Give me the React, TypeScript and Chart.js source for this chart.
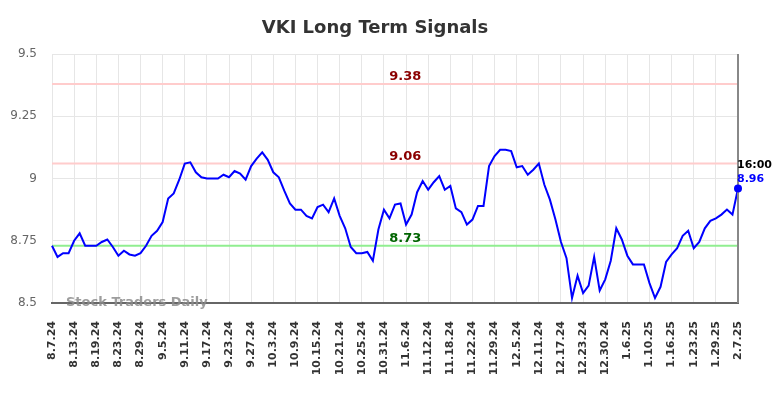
import React, { useEffect, useRef } from "react";
import { Chart, registerables } from "chart.js";

Chart.register(...registerables);

const chartTitle = "VKI Long Term Signals";
const watermarkText = "Stock Traders Daily";
const lastTimeLabel = "16:00";

const tickLabels = [
  "8.7.24", "8.13.24", "8.19.24", "8.23.24", "8.29.24", "9.5.24", "9.11.24", "9.17.24",
  "9.23.24", "9.27.24", "10.3.24", "10.9.24", "10.15.24", "10.21.24", "10.25.24", "10.31.24",
  "11.6.24", "11.12.24", "11.18.24", "11.22.24", "11.29.24", "12.5.24", "12.11.24", "12.17.24",
  "12.23.24", "12.30.24", "1.6.25", "1.10.25", "1.16.25", "1.23.25", "1.29.25", "2.7.25",
];
const pointsPerTick = 4;

const prices = [
  8.73, 8.685, 8.7, 8.7, 8.75, 8.78, 8.73, 8.73, 8.73, 8.745,
  8.755, 8.725, 8.69, 8.71, 8.695, 8.69, 8.7, 8.73, 8.77, 8.79,
  8.825, 8.92, 8.94, 8.995, 9.06, 9.065, 9.025, 9.005, 9.0, 9.0,
  9.0, 9.015, 9.005, 9.03, 9.02, 8.995, 9.05, 9.08, 9.105, 9.075,
  9.025, 9.005, 8.95, 8.9, 8.875, 8.875, 8.85, 8.84, 8.885, 8.895,
  8.865, 8.92, 8.85, 8.8, 8.725, 8.7, 8.7, 8.705, 8.67, 8.795,
  8.875, 8.84, 8.895, 8.9, 8.815, 8.855, 8.945, 8.99, 8.955, 8.985,
  9.01, 8.955, 8.97, 8.88, 8.865, 8.815, 8.835, 8.89, 8.89, 9.05,
  9.09, 9.115, 9.115, 9.11, 9.045, 9.05, 9.015, 9.035, 9.06, 8.975,
  8.915, 8.835, 8.745, 8.68, 8.52, 8.61, 8.54, 8.57, 8.685, 8.55,
  8.595, 8.67, 8.8, 8.755, 8.69, 8.655, 8.655, 8.655, 8.58, 8.52,
  8.565, 8.665, 8.695, 8.72, 8.77, 8.79, 8.72, 8.745, 8.8, 8.83,
  8.84, 8.855, 8.875, 8.855, 8.96,
];

const resistanceHigh = 9.38;
const resistanceMid = 9.06;
const supportLow = 8.73;

const yMin = 8.5;
const yMax = 9.5;
const yStep = 0.25;

const FONT = "'DejaVu Sans', sans-serif";

const labels = prices.map((_, i) =>
  i % pointsPerTick === 0 ? tickLabels[i / pointsPerTick] ?? "" : ""
);

const overlayPlugin = {
  id: "overlay",
  beforeDatasetsDraw(chart: any) {
    const { ctx, chartArea } = chart;
    const y = chart.scales.y;
    ctx.save();
    const lines = [
      { v: resistanceHigh, c: "#ffcccc" },
      { v: resistanceMid, c: "#ffcccc" },
      { v: supportLow, c: "#90ee90" },
    ];
    for (const l of lines) {
      const py = y.getPixelForValue(l.v);
      ctx.strokeStyle = l.c;
      ctx.lineWidth = 2;
      ctx.beginPath();
      ctx.moveTo(chartArea.left, py);
      ctx.lineTo(chartArea.right, py);
      ctx.stroke();
    }
    ctx.restore();
  },
  afterDraw(chart: any) {
    const { ctx, chartArea } = chart;
    const x = chart.scales.x;
    const y = chart.scales.y;
    ctx.save();
    // title
    ctx.font = `bold 18px ${FONT}`;
    ctx.fillStyle = "#333333";
    ctx.textAlign = "center";
    ctx.textBaseline = "alphabetic";
    ctx.fillText(chartTitle, 375, 33);

    // level labels
    const labelX = chartArea.left + (chartArea.right - chartArea.left) * 0.515;
    ctx.font = `bold 13px ${FONT}`;
    const levels = [
      { v: resistanceHigh, c: "#8b0000" },
      { v: resistanceMid, c: "#8b0000" },
      { v: supportLow, c: "#006400" },
    ];
    for (const l of levels) {
      ctx.fillStyle = l.c;
      ctx.fillText(l.v.toFixed(2), labelX, y.getPixelForValue(l.v) - 4);
    }

    // right vertical line at last point
    const lastIdx = prices.length - 1;
    const lx = x.getPixelForValue(lastIdx);
    ctx.strokeStyle = "#888888";
    ctx.lineWidth = 2;
    ctx.beginPath();
    ctx.moveTo(lx, chartArea.top);
    ctx.lineTo(lx, chartArea.bottom);
    ctx.stroke();

    // last point dot
    const ly = y.getPixelForValue(prices[lastIdx]);
    ctx.fillStyle = "#0000ff";
    ctx.beginPath();
    ctx.arc(lx, ly, 4, 0, Math.PI * 2);
    ctx.fill();

    // last value labels
    ctx.textAlign = "left";
    ctx.font = `bold 11px ${FONT}`;
    ctx.fillStyle = "#000000";
    ctx.fillText(lastTimeLabel, lx - 1, ly - 20);
    ctx.fillStyle = "#0000ff";
    ctx.fillText(prices[lastIdx].toFixed(2), lx - 1, ly - 6);

    // watermark
    ctx.font = `bold 13px ${FONT}`;
    ctx.fillStyle = "rgba(140,140,140,0.85)";
    ctx.fillText(watermarkText, chartArea.left + 14, 306);
    ctx.restore();
  },
};

export default function App() {
  const canvasRef = useRef<HTMLCanvasElement | null>(null);

  useEffect(() => {
    document.body.style.margin = "0";
    const canvas = canvasRef.current;
    if (!canvas) return;
    const lastIdx = prices.length - 1;
    const chart = new Chart(canvas, {
      type: "line",
      data: {
        labels,
        datasets: [
          {
            data: prices,
            borderColor: "#0000ff",
            borderWidth: 2,
            pointRadius: 0,
            tension: 0,
            fill: false,
          },
        ],
      },
      options: {
        responsive: false,
        animation: false,
        devicePixelRatio: 1,
        layout: { padding: { top: 54, right: 46, left: 0, bottom: 0 } },
        plugins: {
          legend: { display: false },
          tooltip: { enabled: false },
          title: { display: false },
        },
        scales: {
          x: {
            type: "category",
            afterBuildTicks: (s: any) => {
              s.ticks = s.ticks.filter((t: any) => t.value % pointsPerTick === 0 || t.value === lastIdx);
            },
            afterFit: (s: any) => {
              s.height = 95;
            },
            grid: { color: "#e6e6e6", drawTicks: false, lineWidth: 1 },
            border: { display: true, color: "#666666", width: 2 },
            ticks: {
              autoSkip: false,
              minRotation: 90,
              maxRotation: 90,
              padding: 18,
              color: "#333333",
              font: { family: FONT, size: 11, weight: "bold" },
              callback: (v: any) => labels[v as number],
            },
          },
          y: {
            min: yMin,
            max: yMax,
            afterFit: (s: any) => {
              s.width = 52;
            },
            grid: { color: "#e6e6e6", drawTicks: false, lineWidth: 1 },
            border: { display: false },
            ticks: {
              stepSize: yStep,
              padding: 15,
              color: "#666666",
              font: { family: FONT, size: 12 },
              callback: (v: any) => String(v),
            },
          },
        },
      },
      plugins: [overlayPlugin],
    } as any);
    return () => chart.destroy();
  }, []);

  return (
    <div style={{ width: 784, height: 398 }}>
      <canvas ref={canvasRef} width={784} height={398} />
    </div>
  );
}
